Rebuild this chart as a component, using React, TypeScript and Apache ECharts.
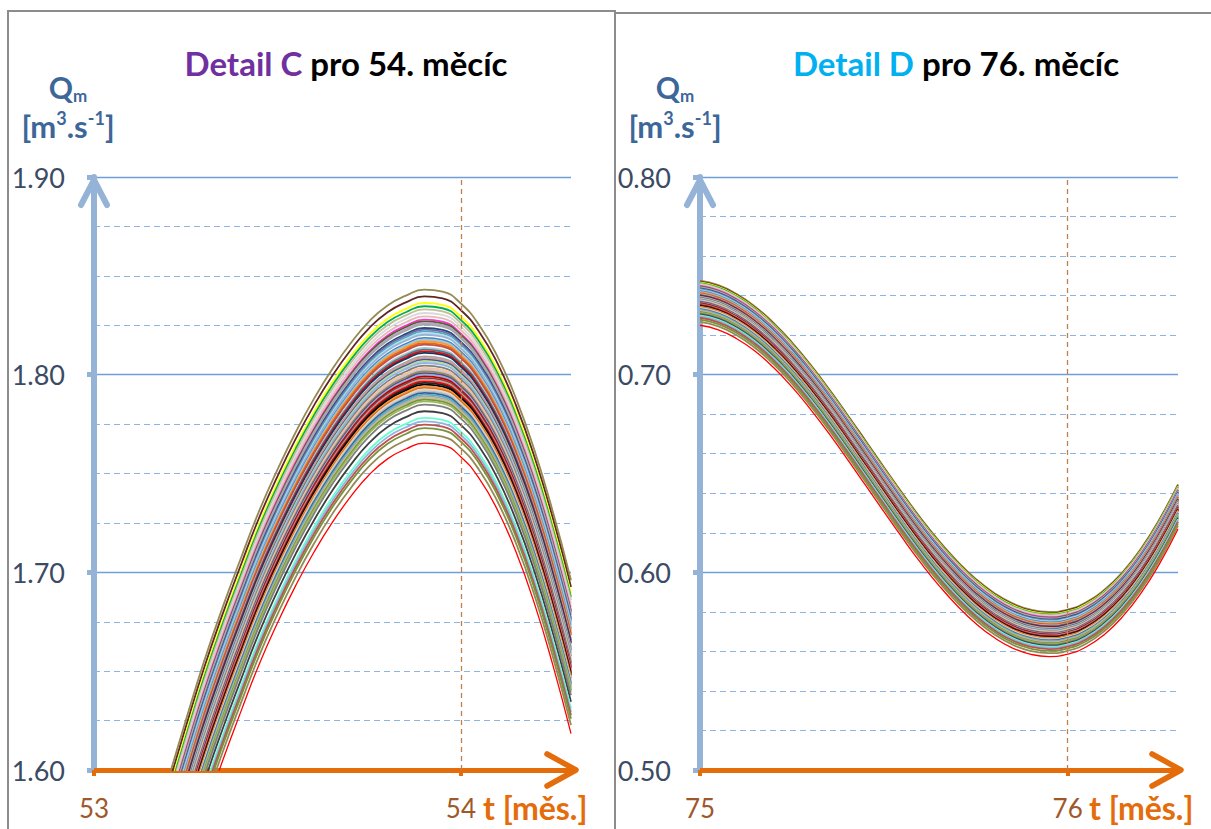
import React, { useEffect, useRef } from "react";
import * as echarts from "echarts";

// Detail C (54th month): sample times and the upper envelope of the ensemble
const timesC = [
  53.2, 53.25, 53.3, 53.35, 53.4, 53.45, 53.5, 53.55, 53.6, 53.65, 53.7, 53.75,
  53.8, 53.85, 53.9, 53.95, 54.0, 54.05, 54.1, 54.15, 54.2, 54.25, 54.3,
];
const topC = [
  1.594, 1.625, 1.655, 1.682, 1.707, 1.731, 1.752, 1.771, 1.788, 1.803, 1.816, 1.827,
  1.835, 1.84, 1.843, 1.842, 1.836, 1.825, 1.809, 1.788, 1.762, 1.731, 1.696,
];
// peak level of every ensemble member in detail C
const levelsC = [
  1.843, 1.8396, 1.8363, 1.8346, 1.833, 1.8312, 1.8295, 1.8278, 1.827, 1.8261,
  1.8253, 1.8236, 1.8228, 1.8219, 1.821, 1.8202, 1.8186, 1.8178, 1.8169, 1.816,
  1.8152, 1.8135, 1.8127, 1.8118, 1.811, 1.8093, 1.8085, 1.8076, 1.8068, 1.8059,
  1.8046, 1.8034, 1.8025, 1.8017, 1.8008, 1.8, 1.7991, 1.7983, 1.7975, 1.7966,
  1.7958, 1.795, 1.7941, 1.7933, 1.7925, 1.7916, 1.7908, 1.7899, 1.789, 1.7882,
  1.7874, 1.7865, 1.7848, 1.7815, 1.7781, 1.7764, 1.7747, 1.773, 1.7697, 1.7654,
];

// Detail D (76th month): sample times and the upper envelope of the ensemble
const timesD = [
  75.0, 75.05, 75.1, 75.15, 75.2, 75.25, 75.3, 75.35, 75.4, 75.45, 75.5, 75.55, 75.6,
  75.65, 75.7, 75.75, 75.8, 75.85, 75.9, 75.95, 76.0, 76.05, 76.1, 76.15, 76.2, 76.25, 76.3,
];
const topD = [
  0.7476, 0.7453, 0.7408, 0.7344, 0.7262, 0.7164, 0.7052, 0.693, 0.68, 0.6667, 0.6533,
  0.6401, 0.6275, 0.6159, 0.6056, 0.5967, 0.5896, 0.5843, 0.5811, 0.58, 0.5812, 0.5848,
  0.5912, 0.6003, 0.6122, 0.627, 0.6445,
];
// trough level of every ensemble member in detail D
const levelsD = [
  0.58, 0.5795, 0.5791, 0.5787, 0.5784, 0.578, 0.5777, 0.5773, 0.577, 0.5767,
  0.5764, 0.5761, 0.5758, 0.5755, 0.5752, 0.5749, 0.5746, 0.5743, 0.574, 0.5737,
  0.5734, 0.5731, 0.5728, 0.5725, 0.5722, 0.5719, 0.5716, 0.5713, 0.571, 0.5707,
  0.5704, 0.5701, 0.5698, 0.5695, 0.5692, 0.5689, 0.5686, 0.5683, 0.568, 0.5677,
  0.5674, 0.5671, 0.5668, 0.5665, 0.5662, 0.5659, 0.5656, 0.5653, 0.565, 0.5646,
  0.5642, 0.5638, 0.5634, 0.5629, 0.5624, 0.5619, 0.5612, 0.5603, 0.5591, 0.5574,
];

const memberColors = [
  "#948A54", "#632523", "#FFFF00", "#00B050", "#C4BD97", "#D9D9D9", "#E6B9B8", "#FF33CC", "#4F6228", "#B3A2C7",
  "#A6A6A6", "#1F497D", "#8064A2", "#4BACC6", "#B7DEE8", "#95B3D7", "#4F81BD", "#93CDDD", "#F79646", "#E46C0A",
  "#C0504D", "#BFBFBF", "#31859C", "#FF0000", "#17375E", "#A5A5A5", "#D99694", "#366092", "#C3D69B", "#8EB4E3",
  "#7F7F7F", "#FAC090", "#CCC1DA", "#948A54", "#60497A", "#8DB4E2", "#C00000", "#953735", "#A6A6A6", "#FF0000",
  "#262626", "#000000", "#F79646", "#E46C0A", "#D9D9D9", "#BFBFBF", "#376092", "#4BACC6", "#A6A6A6", "#C4BD97",
  "#77933C", "#9BBB59", "#7F7F7F", "#3F3F3F", "#66FFCC", "#8DB4E2", "#C0504D", "#77933C", "#948A54", "#FF0000",
];

const yTicksC = [1.6, 1.9];
const yTicksD = [0.5, 0.8];
const xTicksC = [53, 54];
const xTicksD = [75, 76];

const FONT = 'Lato, "Open Sans", sans-serif';
const AXIS_BLUE = "#95B3D7";
const AXIS_ORANGE = "#E46C0A";
const GRID_SOLID = "#6F9FD8";
const GRID_DASH = "#8DB4E2";
const LABEL_DARK = "#3B4B63";
const UNIT_BLUE = "#3D6699";
const TICK_BROWN = "#A0582A";
const BORDER = "#8C8C8C";

function memberSeries(
  times: number[],
  top: number[],
  levels: number[],
  axisIndex: number
) {
  return levels.map((lv, i) => ({
    type: "line",
    xAxisIndex: axisIndex,
    yAxisIndex: axisIndex,
    smooth: true,
    showSymbol: false,
    silent: true,
    z: 3,
    lineStyle: { color: memberColors[i], width: i === levels.length - 1 ? 1.3 : 1.8 },
    data: times.map((t, j) => [t, +(top[j] - (levels[0] - lv)).toFixed(4)]),
  }));
}

function xAxisDef(gridIndex: number, ticks: number[], max: number) {
  return {
    type: "value",
    gridIndex,
    min: ticks[0],
    max,
    axisLine: { show: true, onZero: false, lineStyle: { color: AXIS_ORANGE, width: 5 } },
    axisTick: { show: true, customValues: ticks, length: 6, lineStyle: { color: AXIS_ORANGE, width: 4 } },
    axisLabel: {
      customValues: ticks,
      margin: 25,
      fontSize: 26,
      fontFamily: FONT,
      color: TICK_BROWN,
    },
    splitLine: { show: false },
  };
}

function yAxisDef(gridIndex: number, ticks: number[], minorSplit: number) {
  return {
    type: "value",
    gridIndex,
    min: ticks[0],
    max: ticks[1],
    interval: 0.1,
    axisLine: { show: true, onZero: false, lineStyle: { color: AXIS_BLUE, width: 6 } },
    axisTick: { show: true, length: 7, lineStyle: { color: AXIS_BLUE, width: 5 } },
    axisLabel: {
      margin: 29,
      fontSize: 27,
      fontFamily: FONT,
      color: LABEL_DARK,
      formatter: (v: number) => v.toFixed(2),
    },
    splitLine: { show: true, lineStyle: { color: GRID_SOLID, width: 1.3 } },
    minorTick: { show: false, splitNumber: minorSplit },
    minorSplitLine: { show: true, lineStyle: { color: GRID_DASH, width: 1.1, type: [6, 4] } },
  };
}

function monthMarker(axisIndex: number, month: number) {
  return {
    type: "line",
    xAxisIndex: axisIndex,
    yAxisIndex: axisIndex,
    data: [],
    silent: true,
    z: 2,
    markLine: {
      silent: true,
      symbol: "none",
      label: { show: false },
      lineStyle: { color: "#C0804D", width: 1.3, type: [5, 4] },
      data: [{ xAxis: month }],
    },
  };
}

function unitLabels(cx: number) {
  return [
    {
      type: "text",
      x: cx,
      y: 87,
      style: {
        text: "{q|Q}{s|m}",
        align: "center",
        verticalAlign: "middle",
        rich: {
          q: { fontSize: 30, fontWeight: "bold", fontFamily: FONT, fill: UNIT_BLUE, lineHeight: 34 },
          s: { fontSize: 17, fontWeight: "bold", fontFamily: FONT, fill: UNIT_BLUE, verticalAlign: "bottom", lineHeight: 24 },
        },
      },
    },
    {
      type: "text",
      x: cx,
      y: 126,
      style: {
        text: "{b|[m}{u|3}{b|.s}{u|-1}{b|]}",
        align: "center",
        verticalAlign: "middle",
        rich: {
          b: { fontSize: 31, fontWeight: "bold", fontFamily: FONT, fill: UNIT_BLUE, lineHeight: 34 },
          u: { fontSize: 18, fontWeight: "bold", fontFamily: FONT, fill: UNIT_BLUE, verticalAlign: "top", lineHeight: 34 },
        },
      },
    },
  ];
}

function titleText(cx: number, head: string, headColor: string, rest: string) {
  return {
    type: "text",
    x: cx,
    y: 63,
    style: {
      text: `{h|${head}}{r|${rest}}`,
      align: "center",
      verticalAlign: "middle",
      rich: {
        h: { fontSize: 33, fontWeight: "bold", fontFamily: FONT, fill: headColor },
        r: { fontSize: 33, fontWeight: "bold", fontFamily: FONT, fill: "#000000" },
      },
    },
  };
}

function arrows(yAxisX: number, xEnd: number) {
  return [
    {
      type: "polyline",
      z: 100,
      shape: { points: [[yAxisX - 13, 205], [yAxisX, 180], [yAxisX + 13, 205]] },
      style: { stroke: AXIS_BLUE, lineWidth: 6, fill: "none", lineCap: "round", lineJoin: "round" },
    },
    {
      type: "polyline",
      z: 100,
      shape: { points: [[xEnd - 29, 754], [xEnd, 770], [xEnd - 29, 786]] },
      style: { stroke: AXIS_ORANGE, lineWidth: 5.5, fill: "none", lineCap: "round", lineJoin: "round" },
    },
  ];
}

function timeLabel(x: number) {
  return {
    type: "text",
    x,
    y: 807,
    style: {
      text: "t [měs.]",
      align: "left",
      verticalAlign: "middle",
      fontSize: 32,
      fontWeight: "bold",
      fontFamily: FONT,
      fill: AXIS_ORANGE,
    },
  };
}

const borders = [
  { x1: 8, y1: 11, x2: 8, y2: 829 },
  { x1: 7, y1: 11, x2: 615, y2: 11 },
  { x1: 615, y1: 10, x2: 615, y2: 829 },
  { x1: 615, y1: 13, x2: 1211, y2: 13 },
].map((shape) => ({
  type: "line",
  shape,
  style: { stroke: BORDER, lineWidth: 2 },
}));

const option = {
  animation: false,
  backgroundColor: "#ffffff",
  grid: [
    { left: 94, top: 177, width: 477, height: 593 },
    { left: 700, top: 177, width: 478, height: 593 },
  ],
  xAxis: [xAxisDef(0, xTicksC, 54.3), xAxisDef(1, xTicksD, 76.3)],
  yAxis: [yAxisDef(0, yTicksC, 4), yAxisDef(1, yTicksD, 5)],
  series: [
    monthMarker(0, 54),
    monthMarker(1, 76),
    ...memberSeries(timesC, topC, levelsC, 0),
    ...memberSeries(timesD, topD, levelsD, 1),
  ],
  graphic: [
    ...borders,
    titleText(346, "Detail C", "#7030A0", " pro 54. měcíc"),
    titleText(956, "Detail D", "#00B0F0", " pro 76. měcíc"),
    ...unitLabels(68),
    ...unitLabels(675),
    ...arrows(94, 576),
    ...arrows(700, 1181),
    timeLabel(483),
    timeLabel(1089),
  ],
};

export default function App() {
  const ref = useRef<HTMLDivElement>(null);
  useEffect(() => {
    const chart = echarts.init(ref.current!, null, { renderer: "svg" });
    chart.setOption(option as any);
    return () => chart.dispose();
  }, []);
  return (
    <div
      ref={ref}
      style={{ position: "fixed", left: 0, top: 0, width: 1211, height: 829, background: "#fff" }}
    />
  );
}
